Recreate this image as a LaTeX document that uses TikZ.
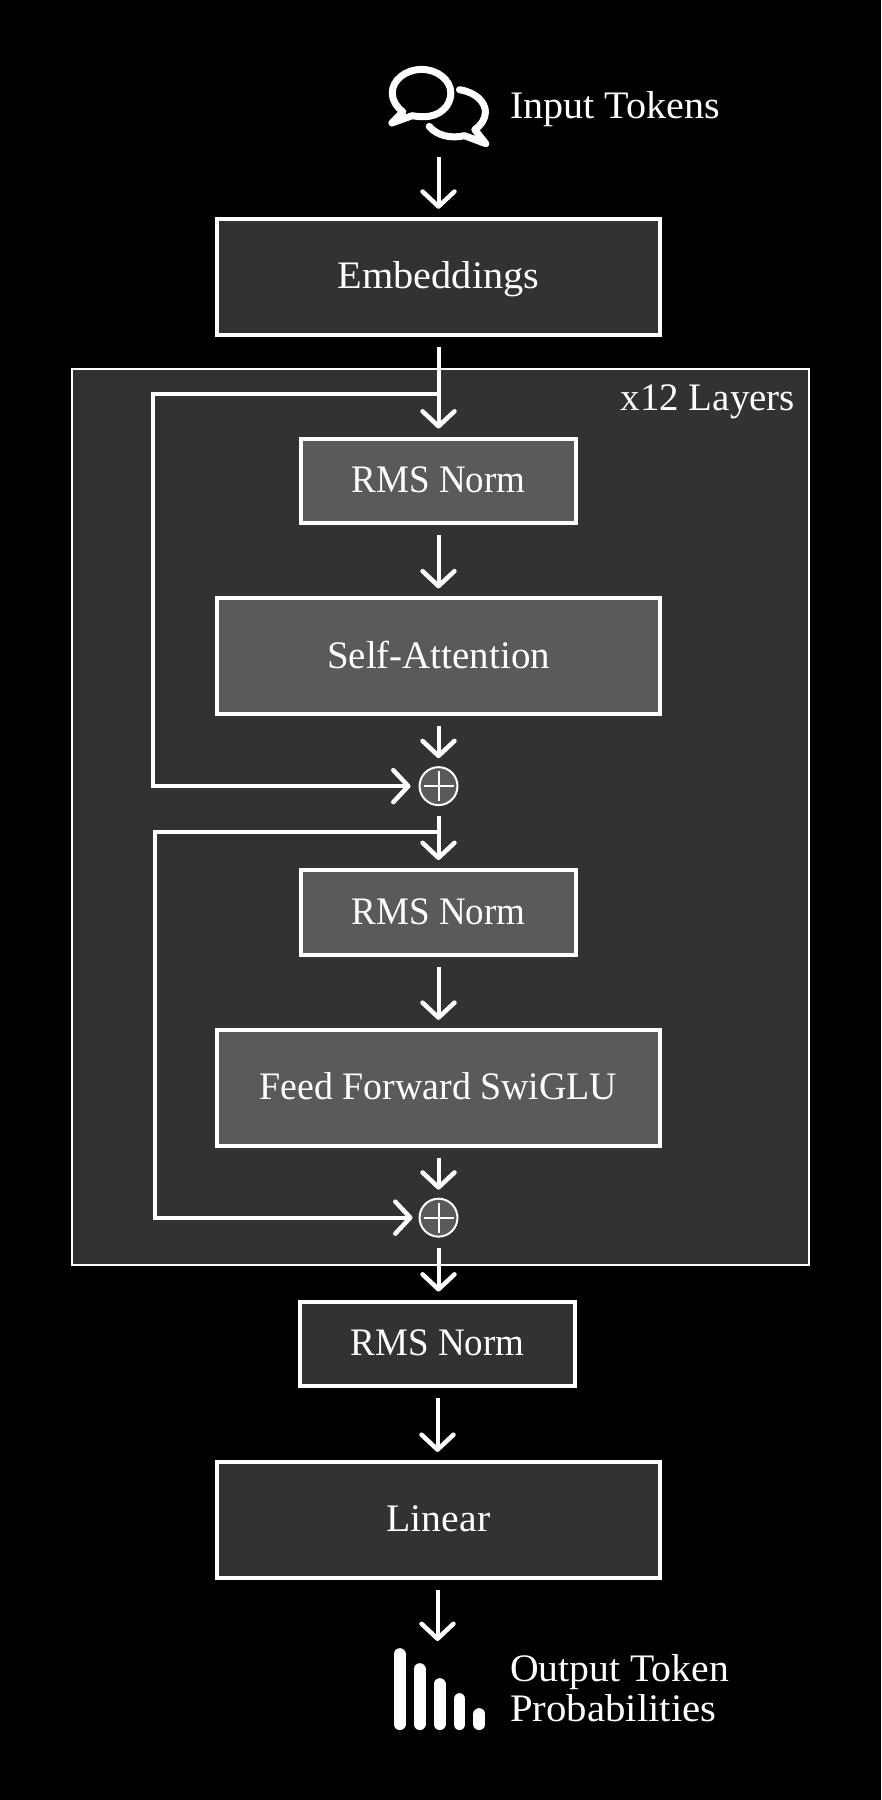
\documentclass[tikz,border=0pt]{standalone}
\usepackage{fontspec}
\usepackage{graphicx}
\setmainfont{Liberation Serif}
\usetikzlibrary{arrows.meta}
\definecolor{framefill}{HTML}{323232}
\definecolor{innerfill}{HTML}{5A5A5A}
\tikzset{
  x=1pt,y=-1pt,
  lbl/.style={text=white,font=\fontsize{39}{40}\selectfont,inner sep=0pt},
  box/.style={draw=white,line width=4pt,text=white,font=\fontsize{39}{40}\selectfont,inner sep=0pt,text height=26pt,text depth=2.5pt,align=center},
  outerbox/.style={box,fill=framefill},
  innerbox/.style={box,fill=innerfill},
  wide/.style={minimum width=444pt,minimum height=116pt},
  narrow/.style={minimum width=276pt,minimum height=85pt},
  conn/.style={draw=white,line width=4pt,-{Straight Barb[length=15pt,width=32pt,round,line width=4.5pt]}},
  std/.style={conn,shorten >=8pt,shorten <=10pt},
  addnode/.style={circle,draw=white,line width=2pt,fill=innerfill,minimum size=38pt,inner sep=0pt},
  plusbar/.style={draw=white,line width=2pt},
  iconline/.style={draw=white,line width=7pt,line join=round,line cap=round},
  bar/.style={draw=white,line width=12pt,line cap=round},
  icon/.style={inner sep=0pt,minimum width=100pt,minimum height=84pt},
}
\begin{document}
\begin{tikzpicture}
\fill[black] (-1,-1) rectangle (881,1801);
\useasboundingbox (-0.5,-0.5) rectangle (879.5,1799.5);
% frame
\node[draw=white,line width=2pt,fill=framefill,minimum width=738pt,minimum height=897pt,inner sep=0pt] (frame) at (440,816.5) {};
\node[lbl,anchor=base east] (layers) at (795,410) {x12 Layers};
% icon placeholders
\node[icon] (chat) at (438,95) {};
\node[icon] (bars) at (437,1690) {};
% chat icon
\begin{scope}[shift={(360,39.5)},x=0.3333pt,y=-0.3333pt]
\draw[iconline] (190,229) .. controls (238,229) and (271,197) .. (271,158)
  .. controls (271,119) and (231,87) .. (183,87)
  .. controls (135,87) and (95,119) .. (95,158)
  .. controls (95,180) and (108,200) .. (127,214)
  -- (94,248) -- (155,226) .. controls (166,228) and (178,229) .. (190,229);
\draw[iconline] (297,148) .. controls (345,155) and (375,185) .. (375,215)
  .. controls (375,235) and (362,255) .. (343,268)
  -- (376,310) -- (312,286) .. controls (270,296) and (228,285) .. (206,258);
\end{scope}
% bars icon
\foreach \x/\t in {399/1655,419/1670,439/1685,459/1700,479/1715}
  \draw[bar] (\x,\t) -- (\x,1725);
% labels
\node[lbl,anchor=base west] (inlbl) at (509.5,118) {\scalebox{1.03}[1]{Input Tokens}};
\node[lbl,anchor=base west] (outa) at (509.5,1682) {\scalebox{1.02}[1]{Output Token}};
\node[lbl,anchor=base west] (outb) at (509.5,1722) {\scalebox{1.047}[1]{Probabilities}};
% boxes
\node[outerbox,wide] (emb) at (438,276) {\scalebox{1.035}[1]{Embeddings}};
\node[innerbox,narrow] (rmsa) at (438,480.5) {\scalebox{.95}[1]{RMS Norm}};
\node[innerbox,wide] (att) at (438,656) {Self-Attention};
\node[addnode] (adda) at (438,786) {};
\node[innerbox,narrow] (rmsb) at (438,912.5) {\scalebox{.95}[1]{RMS Norm}};
\node[innerbox,wide] (ff) at (438,1088) {\scalebox{.972}[1]{Feed Forward SwiGLU}};
\node[addnode] (addb) at (438,1218) {};
\node[outerbox,narrow] (rmsc) at (437,1344.5) {\scalebox{.95}[1]{RMS Norm}};
\node[outerbox,wide] (lin) at (438,1520.5) {\scalebox{1.02}[1]{Linear}};
% plus signs
\foreach \n in {adda,addb}{
  \draw[plusbar] ([xshift=-15pt]\n.center) -- ([xshift=15pt]\n.center);
  \draw[plusbar] ([yshift=-15pt]\n.center) -- ([yshift=15pt]\n.center);
}
% branch points
\coordinate (bra) at (438,393);
\coordinate (cora) at (152,393);
\coordinate (corb) at (152,786);
\coordinate (brb) at (438,832);
\coordinate (corc) at (154,832);
\coordinate (cord) at (154,1218);
% connectors
\draw[std,shorten <=19pt] (chat.south) -- (emb.north);
\draw[std] (emb.south) -- (rmsa.north);
\draw[std] (rmsa.south) -- (att.north);
\draw[std] (att.south) -- (adda.north);
\draw[std] (adda.south) -- (rmsb.north);
\draw[std] (rmsb.south) -- (ff.north);
\draw[std] (ff.south) -- (addb.north);
\draw[std] (addb.south) -- (rmsc.north -| addb.south);
\draw[std] (rmsc.south) -- (rmsc.south |- lin.north);
\draw[std,shorten <=10pt,shorten >=6pt] (lin.south -| bars.north) -- (bars.north);
\draw[conn,shorten >=8pt] (bra) -- (cora) -- (corb) -- (adda.west);
\draw[conn,shorten >=6pt] (brb) -- (corc) -- (cord) -- (addb.west);
\end{tikzpicture}
\end{document}
